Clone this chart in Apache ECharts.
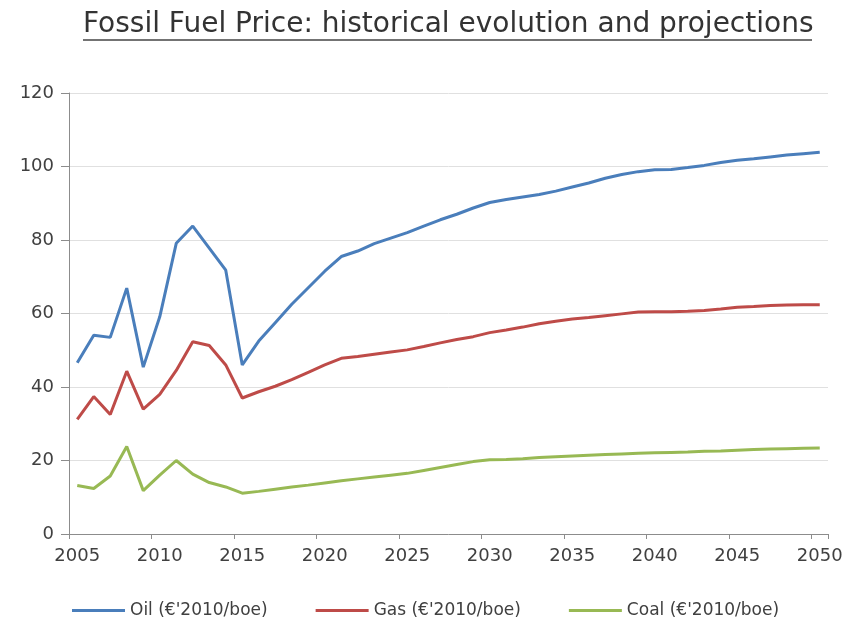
<!DOCTYPE html>
<html>
<head>
<meta charset="utf-8">
<script src="https://cdn.jsdelivr.net/npm/echarts@6/dist/echarts.min.js"></script>
<style>
  html, body { margin: 0; padding: 0; background: #fff; }
  #chart { width: 843px; height: 625px; }
</style>
</head>
<body>
<div id="chart"></div>
<script>
// years on the category axis
const years = ['2005', '2006', '2007', '2008', '2009', '2010', '2011', '2012', '2013', '2014',
  '2015', '2016', '2017', '2018', '2019', '2020', '2021', '2022', '2023', '2024',
  '2025', '2026', '2027', '2028', '2029', '2030', '2031', '2032', '2033', '2034',
  '2035', '2036', '2037', '2038', '2039', '2040', '2041', '2042', '2043', '2044',
  '2045', '2046', '2047', '2048', '2049', '2050'];

// €'2010/boe
const oil = [46.6, 54.1, 53.5, 66.9, 45.4, 59.1, 79.1, 83.8, 77.8, 71.8, 46.0,
  52.5, 57.5, 62.5, 67.0, 71.5, 75.5, 77.0, 79.0, 80.5, 82.0,
  83.8, 85.5, 87.0, 88.7, 90.2, 91.0, 91.7, 92.4, 93.3, 94.4,
  95.5, 96.8, 97.8, 98.6, 99.1, 99.2, 99.7, 100.3, 101.1, 101.7,
  102.1, 102.6, 103.1, 103.5, 103.9];
const gas = [31.2, 37.4, 32.5, 44.3, 34.0, 38.0, 44.5, 52.3, 51.3, 46.0, 37.0,
  38.7, 40.2, 42.0, 44.0, 46.0, 47.8, 48.3, 48.9, 49.5, 50.1,
  51.0, 52.0, 52.9, 53.7, 54.8, 55.5, 56.3, 57.2, 57.9, 58.5,
  58.9, 59.4, 59.9, 60.4, 60.5, 60.5, 60.6, 60.8, 61.2, 61.7,
  61.9, 62.2, 62.3, 62.4, 62.4];
const coal = [13.2, 12.4, 15.8, 23.8, 11.8, 16.0, 20.0, 16.3, 14.0, 12.8, 11.1,
  11.6, 12.2, 12.8, 13.3, 13.9, 14.5, 15.0, 15.5, 16.0, 16.5,
  17.3, 18.1, 18.9, 19.7, 20.2, 20.3, 20.5, 20.8, 21.0, 21.2,
  21.4, 21.6, 21.8, 22.0, 22.1, 22.2, 22.3, 22.5, 22.6, 22.8,
  23.0, 23.1, 23.2, 23.3, 23.4];

const seriesNames = ["Oil (€'2010/boe)", "Gas (€'2010/boe)", "Coal (€'2010/boe)"];
const titleText = 'Fossil Fuel Price: historical evolution and projections';

const font = 'DejaVu Sans';

let myChart = echarts.init(document.getElementById('chart'));

let option = {
  animation: false,
  color: ['#4A7EBB', '#BE4B48', '#98B954'],
  title: {
    text: titleText,
    left: 78,
    top: 6,
    textStyle: {
      fontFamily: font,
      fontSize: 28,
      fontWeight: 'normal',
      color: '#333333'
    }
  },
  graphic: [
    {
      // underline of the title
      type: 'line',
      shape: { x1: 83, y1: 40, x2: 812, y2: 40 },
      style: { stroke: '#444444', lineWidth: 1.5 }
    }
  ],
  legend: {
    left: 67,
    top: 597,
    icon: 'rect',
    itemWidth: 53,
    itemHeight: 3,
    itemGap: 48,
    textStyle: {
      fontFamily: font,
      fontSize: 17,
      color: '#404040'
    },
    data: seriesNames
  },
  grid: {
    left: 69,
    right: 15,
    top: 93,
    bottom: 91,
    containLabel: false,
    outerBoundsMode: 'none'
  },
  xAxis: {
    type: 'category',
    boundaryGap: true,
    data: years,
    axisLine: { lineStyle: { color: '#8c8c8c', width: 1 } },
    axisTick: { show: true, interval: 4, length: 5, lineStyle: { color: '#8c8c8c' } },
    axisLabel: {
      interval: 4,
      margin: 13,
      fontFamily: font,
      fontSize: 18,
      color: '#404040'
    },
    splitLine: { show: false }
  },
  yAxis: {
    type: 'value',
    min: 0,
    max: 120,
    interval: 20,
    axisLine: { show: true, lineStyle: { color: '#8c8c8c', width: 1 } },
    axisTick: { show: true, length: 8, lineStyle: { color: '#8c8c8c' } },
    axisLabel: {
      margin: 15,
      fontFamily: font,
      fontSize: 18,
      color: '#404040'
    },
    splitLine: { lineStyle: { color: '#e0e0e0', width: 1 } }
  },
  series: [
    {
      name: seriesNames[0],
      type: 'line',
      data: oil,
      symbol: 'none',
      lineStyle: { width: 3 }
    },
    {
      name: seriesNames[1],
      type: 'line',
      data: gas,
      symbol: 'none',
      lineStyle: { width: 3 }
    },
    {
      name: seriesNames[2],
      type: 'line',
      data: coal,
      symbol: 'none',
      lineStyle: { width: 3 }
    }
  ]
};

myChart.setOption(option);
</script>
</body>
</html>
